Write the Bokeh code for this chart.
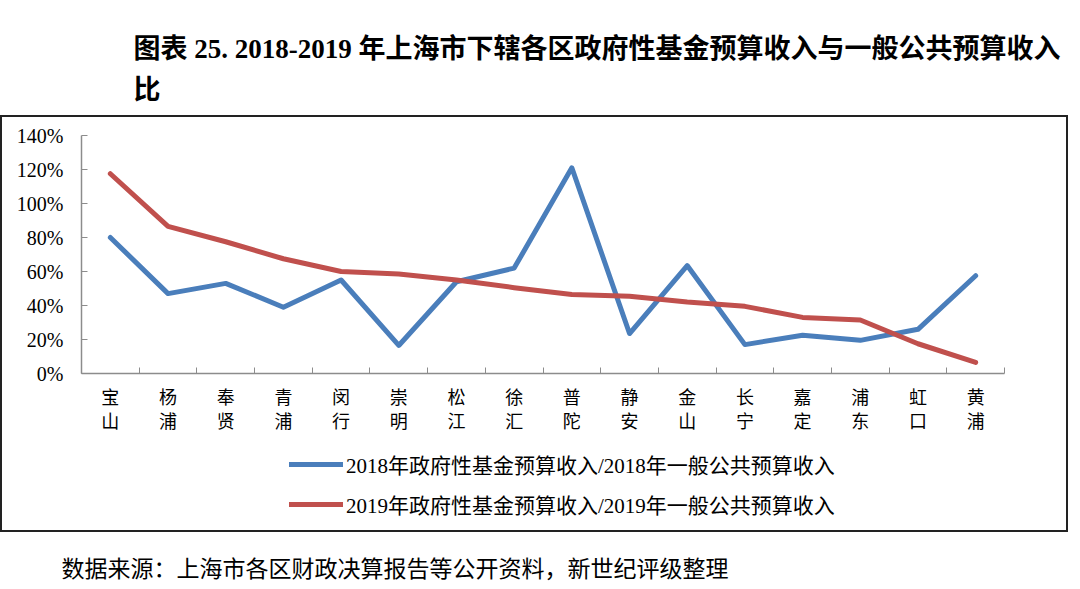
from bokeh.plotting import figure
from bokeh.layouts import column
from bokeh.models import (Range1d, FixedTicker, NumeralTickFormatter, Title,
                          Legend, LegendItem)
from bokeh.embed import file_html
from bokeh.resources import INLINE

# ---------------- data ----------------
districts = ["宝山", "杨浦", "奉贤", "青浦", "闵行", "崇明", "松江", "徐汇",
             "普陀", "静安", "金山", "长宁", "嘉定", "浦东", "虹口", "黄浦"]
ratio_2018 = [0.80, 0.47, 0.53, 0.39, 0.55, 0.165, 0.54, 0.62,
              1.21, 0.235, 0.635, 0.17, 0.225, 0.195, 0.26, 0.575]
ratio_2019 = [1.175, 0.865, 0.775, 0.675, 0.60, 0.585, 0.55, 0.505,
              0.465, 0.455, 0.42, 0.395, 0.33, 0.315, 0.175, 0.065]
y_ticks = [0.0, 0.2, 0.4, 0.6, 0.8, 1.0, 1.2, 1.4]
series_names = ["2018年政府性基金预算收入/2018年一般公共预算收入",
                "2019年政府性基金预算收入/2019年一般公共预算收入"]
title_text = "图表 25. 2018-2019 年上海市下辖各区政府性基金预算收入与一般公共预算收入\n比"
source_text = "数据来源：上海市各区财政决算报告等公开资料，新世纪评级整理"

FONT = "Liberation Serif, Noto Sans CJK SC"
BLUE = "#4a7ebb"
RED = "#c0504d"
AXIS = "#8c8c8c"
BOX = "#222222"

W = 1080
TOP_H, LEG_H = 440, 149
FRAME_L, FRAME_T, FRAME_W, FRAME_H = 81, 135, 923, 238
FRAME_R = W - FRAME_L - FRAME_W

g = f"linear-gradient({BOX},{BOX})"


def box_css(parts):
    return ", ".join(f"{g} {px}px {py}px / {w}px {h}px no-repeat"
                     for px, py, w, h in parts)


# ---------------- main chart ----------------
p = figure(width=W, height=TOP_H, output_backend="svg", toolbar_location=None,
           x_range=Range1d(-0.5, len(districts) - 0.5),
           y_range=Range1d(0, 1.4),
           min_border_left=FRAME_L, min_border_top=FRAME_T,
           min_border_right=FRAME_R,
           min_border_bottom=TOP_H - FRAME_T - FRAME_H,
           styles={"background": box_css([(0, 115, 1068, 2),
                                          (0, 115, 2, TOP_H - 115),
                                          (1066, 115, 2, TOP_H - 115)])})
p.outline_line_color = None
p.xgrid.visible = False
p.ygrid.visible = False
p.border_fill_alpha = 0
p.background_fill_alpha = 0

x = list(range(len(districts)))

xa = p.xaxis[0]
xa.ticker = FixedTicker(ticks=x, minor_ticks=[i - 0.5 for i in range(len(districts) + 1)])
xa.major_label_overrides = {i: "\n".join(list(d)) for i, d in enumerate(districts)}
xa.major_tick_in = 0
xa.major_tick_out = 0
xa.minor_tick_in = 6
xa.minor_tick_out = 0
xa.minor_tick_line_color = AXIS
xa.axis_line_color = AXIS
xa.axis_line_width = 1.5
xa.major_label_text_font = FONT
xa.major_label_text_font_size = "18px"
xa.major_label_text_color = "black"
xa.major_label_standoff = 14

ya = p.yaxis[0]
ya.ticker = FixedTicker(ticks=y_ticks)
ya.formatter = NumeralTickFormatter(format="0%")
ya.major_tick_in = 6
ya.major_tick_out = 0
ya.minor_tick_line_color = None
ya.major_tick_line_color = AXIS
ya.axis_line_color = AXIS
ya.axis_line_width = 1.5
ya.major_label_text_font = FONT
ya.major_label_text_font_size = "20px"
ya.major_label_text_color = "black"
ya.major_label_standoff = 18

p.line(x, ratio_2018, line_color=BLUE, line_width=5,
       line_join="round", line_cap="round")
p.line(x, ratio_2019, line_color=RED, line_width=5,
       line_join="round", line_cap="round")

p.add_layout(Title(text=title_text, align="left", offset=133 - FRAME_L,
                   standoff=61, text_font=FONT, text_font_size="27px",
                   text_font_style="bold", text_color="black",
                   text_line_height=1.38), "above")

# ---------------- legend + source strip ----------------
LEG_FRAME_H = 112
q = figure(width=W, height=LEG_H, output_backend="svg", toolbar_location=None,
           x_range=Range1d(-0.5, len(districts) - 0.5), y_range=Range1d(0, 1.4),
           min_border_left=FRAME_L, min_border_right=FRAME_R,
           min_border_top=0, min_border_bottom=LEG_H - LEG_FRAME_H,
           styles={"background": box_css([(0, 0, 2, 92),
                                          (1066, 0, 2, 92),
                                          (0, 90, 1068, 2)])})
q.axis.visible = False
q.grid.visible = False
q.outline_line_color = None
q.border_fill_alpha = 0
q.background_fill_alpha = 0

# legend keys: single-point proxies of the two series (draw no visible line)
k1 = q.line(x[:1], ratio_2018[:1], line_color=BLUE, line_width=5, line_cap="round")
k2 = q.line(x[:1], ratio_2019[:1], line_color=RED, line_width=5, line_cap="round")

legend = Legend(items=[LegendItem(label=series_names[0], renderers=[k1]),
                       LegendItem(label=series_names[1], renderers=[k2])],
                location=(289 - FRAME_L, 33), orientation="vertical",
                glyph_width=54, glyph_height=24, label_height=24,
                label_standoff=3, spacing=10, padding=0, margin=0,
                border_line_color=None, background_fill_alpha=0,
                label_text_font=FONT, label_text_font_size="21px",
                label_text_color="black")
q.add_layout(legend, "center")

q.add_layout(Title(text=source_text, align="left", offset=61 - FRAME_L,
                   standoff=4, text_font=FONT, text_font_size="23px",
                   text_font_style="normal", text_color="black"), "below")

layout = column(p, q, spacing=0)
open("out.html", "w").write(file_html(layout, INLINE))
